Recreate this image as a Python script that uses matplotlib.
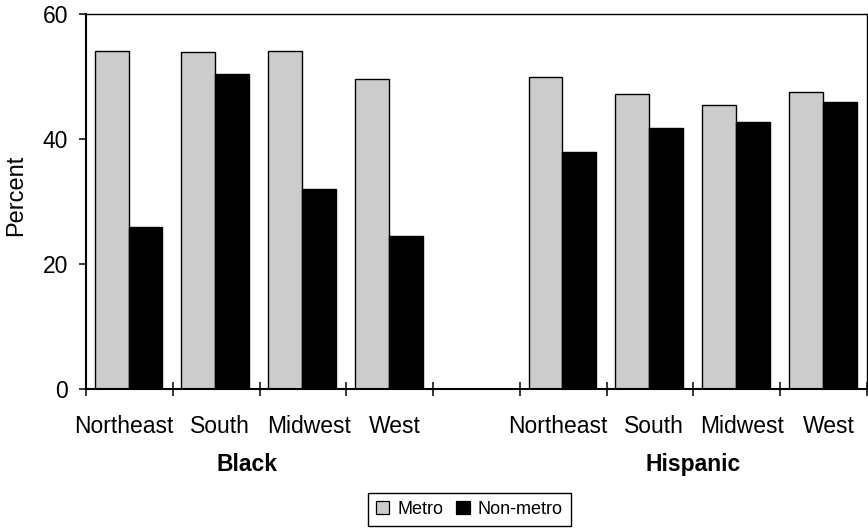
import matplotlib
matplotlib.use("Agg")
import matplotlib.pyplot as plt
from matplotlib.patches import Patch
import numpy as np

plt.rcParams['font.family'] = ['Liberation Sans', 'DejaVu Sans']

regions = ["Northeast", "South", "Midwest", "West"]
groups = ["Black", "Hispanic"]
black_metro = [54.1, 53.9, 54.1, 49.6]
black_nonmetro = [25.9, 50.4, 32.1, 24.5]
hisp_metro = [50.0, 47.2, 45.5, 47.6]
hisp_nonmetro = [38.0, 41.8, 42.8, 45.9]
yticks = [0, 20, 40, 60]

W, H = 868, 532
fig = plt.figure(figsize=(W/100, H/100), dpi=100)
ax_left, ax_right, ax_top, ax_bot = 86, 867, 14.3, 389.3
ax = fig.add_axes([ax_left/W, 1-ax_bot/H, (ax_right-ax_left)/W, (ax_bot-ax_top)/H])

pos_black = np.arange(4)
pos_hisp = np.arange(5, 9)
w = 0.39
for pos, m, n in [(pos_black, black_metro, black_nonmetro), (pos_hisp, hisp_metro, hisp_nonmetro)]:
    ax.bar(pos - w/2 - 0.01, m, width=w, color='#cccccc', edgecolor='black', linewidth=1.0)
    ax.bar(pos + w/2 - 0.01, n, width=w, color='black', edgecolor='black', linewidth=1.0)

ax.set_xlim(-0.5, 8.5)
ax.set_ylim(0, 60)
ax.set_yticks(yticks)
ax.tick_params(axis='y', direction='out', length=5.3, width=1.1, labelsize=16.5, pad=7.5)
ax.set_xticks(np.arange(-0.5, 9.0, 1.0))
ax.set_xticklabels([])
ax.tick_params(axis='x', direction='inout', length=10, width=1.1)
ax.spines['top'].set_linewidth(1.0)
ax.spines['right'].set_linewidth(1.0)
ax.spines['bottom'].set_linewidth(1.5)
ax.spines['left'].set_linewidth(1.5)

# pixel -> data conversion for label placement below the axis
px_per_unit = (ax_bot - ax_top) / 60.0
label_y = -43.3 / px_per_unit
group_y = -81.7 / px_per_unit
nudge = [-0.065, 0.04, 0.065, 0.06]
for pos in (pos_black, pos_hisp):
    for p, r, d in zip(pos, regions, nudge):
        ax.text(p + d, label_y, r, ha='center', va='baseline', fontsize=16.5, clip_on=False)

ax.text(1.36, group_y, groups[0], ha='center', va='baseline', fontsize=16.5, fontweight='bold')
ax.text(6.5, group_y, groups[1], ha='center', va='baseline', fontsize=16.5, fontweight='bold')

ax.set_ylabel("Percent", fontsize=17)
ax.yaxis.label.set_va('center')
ax.yaxis.set_label_coords((15.8 - ax_left) / (ax_right - ax_left), (ax_bot - 195) / (ax_bot - ax_top))

handles = [Patch(facecolor='#cccccc', edgecolor='black', linewidth=0.9, label='Metro'),
           Patch(facecolor='black', edgecolor='black', linewidth=0.9, label='Non-metro')]
leg = fig.legend(handles=handles, loc='upper left', bbox_to_anchor=(368/W, 1-493/H),
                 borderaxespad=0, ncol=2, frameon=True, fancybox=False, fontsize=13,
                 handlelength=0.74, handleheight=0.74, handletextpad=0.44,
                 columnspacing=0.72, borderpad=0.45, edgecolor='black', framealpha=1)
leg.get_frame().set_linewidth(1.0)

fig.savefig("out.png", dpi=100)
